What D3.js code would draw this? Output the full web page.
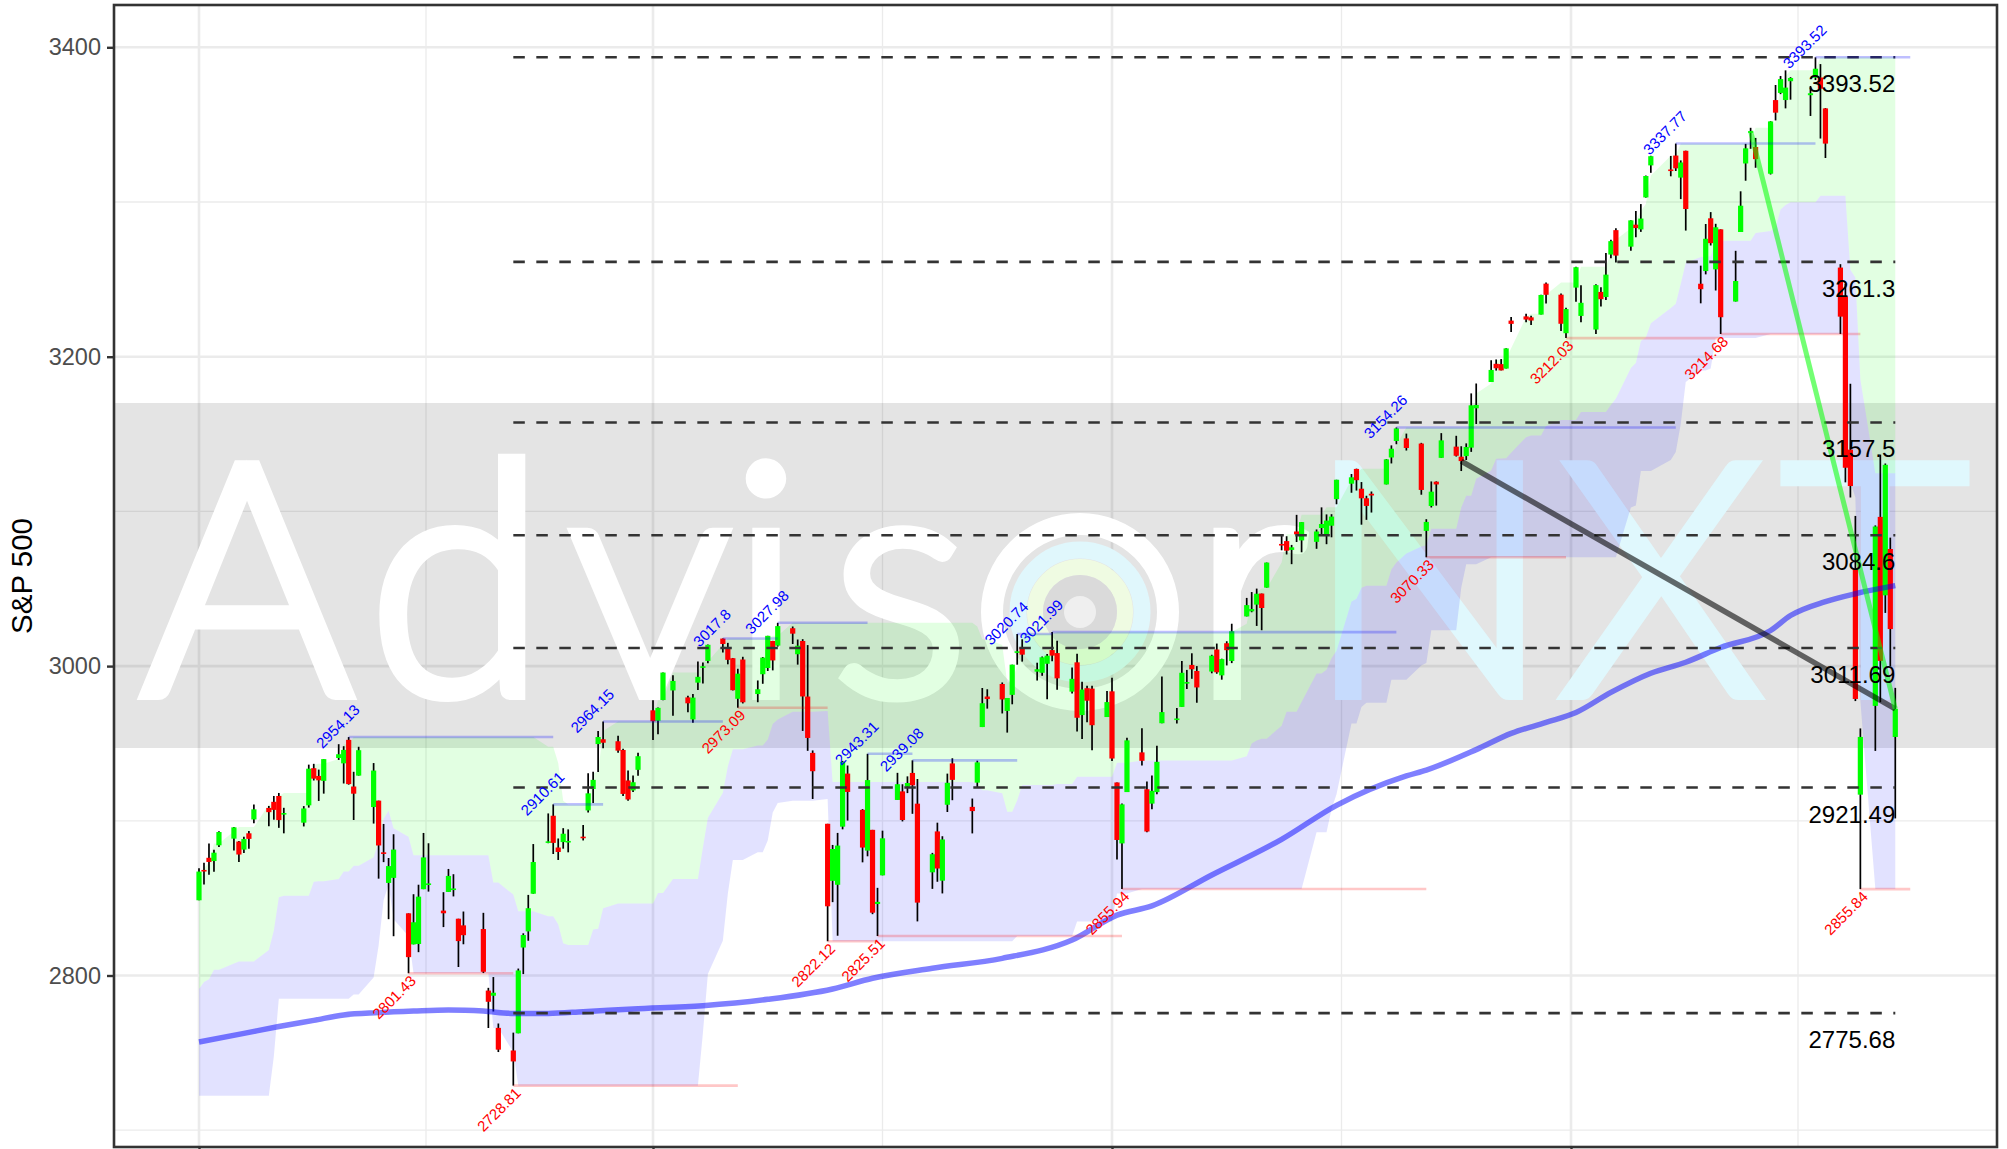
<!DOCTYPE html>
<html><head><meta charset="utf-8">
<script src="https://cdn.jsdelivr.net/npm/d3@7"></script>
<style>
html,body{margin:0;padding:0;overflow:hidden;background:#fff;}
svg{display:block;}
</style></head><body>
<svg id="chart" width="2007" height="1149"></svg>
<script>
// ---------------- DATA ----------------
const dates = [
"2019-04-01","2019-04-02","2019-04-03","2019-04-04","2019-04-05","2019-04-08","2019-04-09","2019-04-10","2019-04-11","2019-04-12","2019-04-15","2019-04-16","2019-04-17","2019-04-18","2019-04-22","2019-04-23","2019-04-24","2019-04-25","2019-04-26","2019-04-29","2019-04-30",
"2019-05-01","2019-05-02","2019-05-03","2019-05-06","2019-05-07","2019-05-08","2019-05-09","2019-05-10","2019-05-13","2019-05-14","2019-05-15","2019-05-16","2019-05-17","2019-05-20","2019-05-21","2019-05-22","2019-05-23","2019-05-24","2019-05-28","2019-05-29","2019-05-30","2019-05-31",
"2019-06-03","2019-06-04","2019-06-05","2019-06-06","2019-06-07","2019-06-10","2019-06-11","2019-06-12","2019-06-13","2019-06-14","2019-06-17","2019-06-18","2019-06-19","2019-06-20","2019-06-21","2019-06-24","2019-06-25","2019-06-26","2019-06-27","2019-06-28",
"2019-07-01","2019-07-02","2019-07-03","2019-07-05","2019-07-08","2019-07-09","2019-07-10","2019-07-11","2019-07-12","2019-07-15","2019-07-16","2019-07-17","2019-07-18","2019-07-19","2019-07-22","2019-07-23","2019-07-24","2019-07-25","2019-07-26","2019-07-29","2019-07-30","2019-07-31",
"2019-08-01","2019-08-02","2019-08-05","2019-08-06","2019-08-07","2019-08-08","2019-08-09","2019-08-12","2019-08-13","2019-08-14","2019-08-15","2019-08-16","2019-08-19","2019-08-20","2019-08-21","2019-08-22","2019-08-23","2019-08-26","2019-08-27","2019-08-28","2019-08-29","2019-08-30",
"2019-09-03","2019-09-04","2019-09-05","2019-09-06","2019-09-09","2019-09-10","2019-09-11","2019-09-12","2019-09-13","2019-09-16","2019-09-17","2019-09-18","2019-09-19","2019-09-20","2019-09-23","2019-09-24","2019-09-25","2019-09-26","2019-09-27","2019-09-30",
"2019-10-01","2019-10-02","2019-10-03","2019-10-04","2019-10-07","2019-10-08","2019-10-09","2019-10-10","2019-10-11","2019-10-14","2019-10-15","2019-10-16","2019-10-17","2019-10-18","2019-10-21","2019-10-22","2019-10-23","2019-10-24","2019-10-25","2019-10-28","2019-10-29","2019-10-30","2019-10-31",
"2019-11-01","2019-11-04","2019-11-05","2019-11-06","2019-11-07","2019-11-08","2019-11-11","2019-11-12","2019-11-13","2019-11-14","2019-11-15","2019-11-18","2019-11-19","2019-11-20","2019-11-21","2019-11-22","2019-11-25","2019-11-26","2019-11-27","2019-11-29",
"2019-12-02","2019-12-03","2019-12-04","2019-12-05","2019-12-06","2019-12-09","2019-12-10","2019-12-11","2019-12-12","2019-12-13","2019-12-16","2019-12-17","2019-12-18","2019-12-19","2019-12-20","2019-12-23","2019-12-24","2019-12-26","2019-12-27","2019-12-30","2019-12-31",
"2020-01-02","2020-01-03","2020-01-06","2020-01-07","2020-01-08","2020-01-09","2020-01-10","2020-01-13","2020-01-14","2020-01-15","2020-01-16","2020-01-17","2020-01-21","2020-01-22","2020-01-23","2020-01-24","2020-01-27","2020-01-28","2020-01-29","2020-01-30","2020-01-31",
"2020-02-03","2020-02-04","2020-02-05","2020-02-06","2020-02-07","2020-02-10","2020-02-11","2020-02-12","2020-02-13","2020-02-14","2020-02-18","2020-02-19","2020-02-20","2020-02-21","2020-02-24","2020-02-25","2020-02-26","2020-02-27","2020-02-28",
"2020-03-02","2020-03-03","2020-03-04","2020-03-05","2020-03-06"];

const opens = [
2848.63,2868.24,2876.09,2873.99,2884.16,2888.46,2886.58,2881.37,2891.92,2900.86,2908.32,2912.26,2916.04,2904.81,2898.78,2909.99,2934.00,2928.99,2925.81,2940.58,2937.14,
2952.33,2922.16,2929.21,2908.89,2913.03,2879.61,2859.84,2863.10,2840.19,2820.12,2820.38,2855.80,2858.60,2841.94,2854.02,2856.06,2836.70,2832.41,2830.03,2790.25,2786.94,2766.15,
2751.53,2762.64,2818.09,2828.51,2852.87,2885.83,2903.27,2882.73,2886.24,2886.82,2889.75,2906.71,2920.55,2949.60,2952.71,2951.42,2945.78,2926.07,2919.66,2932.94,
2971.41,2964.66,2978.08,2984.25,2979.77,2965.52,2989.30,2999.62,3003.36,3017.80,3012.13,3005.10,2978.87,3004.26,2981.93,2994.74,2998.77,3016.26,3013.25,3024.47,3007.66,3016.22,
2980.32,2943.90,2898.07,2861.18,2858.65,2896.21,2930.51,2907.07,2880.72,2894.15,2846.20,2864.74,2913.48,2919.01,2922.04,2930.94,2911.07,2866.70,2893.14,2861.28,2910.37,2937.09,
2909.01,2924.67,2960.60,2980.33,2988.43,2971.01,2981.41,3009.08,3012.21,2996.41,2995.67,3001.50,3010.36,3008.42,2983.50,3002.43,2968.35,2985.73,2985.47,2967.07,
2983.69,2924.78,2885.38,2918.56,2944.23,2920.40,2911.10,2918.55,2963.07,2965.81,2973.61,2989.68,3000.77,2996.84,2996.48,3010.73,2994.01,3014.78,3003.32,3032.12,3035.39,3039.74,3046.90,
3050.72,3078.96,3080.80,3075.10,3087.02,3081.25,3080.33,3089.28,3084.18,3090.75,3107.92,3117.91,3127.45,3114.66,3108.49,3111.41,3117.44,3134.85,3145.49,3147.18,
3143.85,3087.41,3103.50,3119.21,3134.62,3141.86,3135.36,3135.75,3141.23,3166.65,3183.63,3195.40,3195.21,3192.32,3223.33,3226.05,3225.45,3227.20,3247.23,3240.09,3215.18,
3244.67,3226.36,3217.55,3241.86,3238.59,3266.03,3281.81,3271.13,3285.35,3282.27,3302.97,3323.66,3321.03,3330.02,3315.77,3333.10,3247.16,3255.35,3289.46,3256.45,3282.33,
3235.66,3280.61,3324.91,3344.92,3335.54,3318.28,3365.87,3370.50,3365.90,3378.08,3369.04,3380.39,3380.45,3360.50,3257.61,3238.94,3139.90,3062.54,2916.90,
2974.28,3096.46,3045.75,3075.70,2954.20];

const highs = [
2869.40,2872.90,2885.25,2881.28,2893.24,2895.95,2886.88,2889.71,2893.42,2910.54,2909.60,2916.06,2918.00,2908.40,2909.51,2936.31,2936.83,2933.10,2939.88,2949.52,2948.22,
2954.13,2931.68,2947.85,2937.32,2913.03,2897.96,2875.97,2891.31,2840.19,2852.54,2858.68,2892.15,2885.48,2853.86,2868.88,2865.47,2836.70,2841.36,2840.51,2792.03,2799.00,2768.98,
2763.07,2804.49,2827.28,2852.10,2884.97,2904.77,2910.61,2888.57,2895.24,2894.45,2897.27,2930.79,2931.74,2958.06,2964.15,2954.92,2946.52,2932.59,2929.30,2943.98,
2977.93,2973.21,2995.84,2994.03,2980.76,2981.90,3002.98,3002.33,3013.92,3017.80,3015.02,3005.26,2998.28,3006.02,2990.71,3005.90,3019.59,3016.31,3027.98,3025.61,3017.19,3017.40,
3013.59,2945.50,2898.07,2884.40,2892.17,2938.72,2935.75,2907.58,2943.31,2894.15,2856.67,2893.63,2931.00,2923.63,2928.73,2939.08,2927.01,2879.27,2898.79,2890.03,2930.50,2940.43,
2914.39,2938.84,2985.86,2985.03,2989.43,2979.39,3000.93,3020.74,3017.33,3002.19,3006.21,3007.83,3021.99,3016.37,2999.15,3007.98,2989.82,2987.28,2987.31,2983.85,
2992.53,2924.78,2911.13,2953.74,2959.75,2925.47,2929.32,2948.46,2993.28,2972.84,3003.28,2997.54,3008.29,3000.00,3007.33,3014.57,3004.78,3016.07,3027.39,3044.08,3047.87,3050.10,3046.90,
3066.95,3085.20,3083.95,3078.34,3097.77,3093.09,3088.33,3102.61,3098.06,3098.20,3120.46,3124.17,3127.64,3118.97,3110.11,3112.87,3133.83,3142.69,3154.26,3150.30,
3144.31,3094.97,3119.38,3119.45,3150.60,3148.87,3142.12,3143.98,3176.28,3182.68,3197.71,3198.22,3198.48,3205.48,3225.65,3227.78,3226.43,3240.08,3247.93,3240.92,3231.72,
3258.14,3246.15,3246.84,3244.91,3267.07,3275.58,3282.99,3288.13,3294.25,3298.66,3317.11,3329.88,3329.79,3337.77,3326.88,3333.18,3258.85,3285.78,3293.47,3285.91,3282.33,
3268.44,3306.92,3337.58,3347.96,3341.42,3352.26,3375.63,3381.47,3385.09,3380.69,3375.01,3393.52,3389.15,3360.76,3259.81,3246.99,3182.51,3097.07,2959.72,
3090.96,3136.72,3130.97,3083.04,2985.93];

const lows = [
2848.63,2858.75,2865.17,2867.14,2882.99,2880.78,2873.33,2879.13,2881.99,2898.37,2896.48,2900.71,2895.45,2891.90,2896.35,2908.53,2926.05,2912.84,2917.56,2939.35,2924.11,
2923.36,2900.50,2929.21,2898.21,2862.60,2873.28,2836.40,2825.39,2801.43,2820.12,2815.08,2855.80,2854.23,2831.29,2854.02,2851.11,2805.49,2820.19,2801.58,2766.06,2776.74,2750.52,
2728.81,2762.64,2800.92,2822.45,2852.87,2885.51,2878.53,2874.68,2881.99,2879.62,2887.30,2905.44,2911.43,2931.50,2946.87,2944.05,2916.01,2912.99,2918.57,2929.05,
2952.22,2955.92,2977.96,2967.97,2970.09,2963.44,2984.62,2988.80,3001.87,3008.77,3001.15,2984.25,2973.09,2975.86,2976.65,2988.56,2996.82,2997.24,3012.59,3014.30,3000.94,2958.08,
2945.23,2914.11,2822.12,2847.42,2825.71,2894.47,2900.15,2873.14,2877.05,2839.64,2825.51,2864.74,2913.48,2899.60,2917.91,2904.51,2834.97,2856.00,2860.59,2853.05,2905.67,2913.32,
2891.85,2921.86,2960.60,2972.51,2969.39,2957.01,2975.31,3000.92,3002.90,2990.67,2993.73,2978.57,3003.16,2984.68,2982.23,2957.73,2952.86,2963.71,2945.53,2967.07,
2938.70,2874.93,2855.94,2918.56,2935.68,2892.66,2907.41,2917.12,2963.07,2962.94,2973.61,2985.20,2991.79,2976.31,2995.35,2995.04,2991.21,3000.42,3001.94,3032.12,3034.81,3025.96,3023.19,
3050.72,3074.87,3072.15,3065.89,3080.23,3073.58,3075.82,3084.73,3078.80,3083.26,3104.60,3112.06,3113.47,3091.41,3094.55,3099.26,3117.44,3131.00,3143.41,3139.34,
3110.78,3070.33,3102.53,3103.76,3134.62,3135.46,3126.09,3133.21,3138.47,3156.51,3183.63,3191.03,3191.14,3192.32,3216.03,3222.30,3220.51,3227.20,3234.37,3216.57,3212.03,
3235.53,3222.34,3214.64,3232.43,3236.67,3263.67,3260.86,3268.43,3277.19,3280.69,3302.82,3318.86,3316.61,3320.04,3301.87,3281.53,3234.50,3253.22,3271.89,3242.80,3214.68,
3235.66,3280.61,3313.75,3334.39,3322.12,3317.77,3352.72,3369.72,3360.52,3366.15,3355.61,3378.83,3341.02,3328.45,3214.65,3118.77,3108.99,2977.39,2855.84,
2945.19,2976.63,3034.38,2999.83,2901.54];

const closes = [
2867.19,2867.24,2873.40,2879.39,2892.74,2895.77,2878.20,2888.21,2888.32,2907.41,2905.58,2907.06,2900.45,2905.03,2907.97,2933.68,2927.25,2926.17,2939.88,2943.03,2945.83,
2923.73,2917.52,2945.64,2932.47,2884.05,2879.42,2870.72,2881.40,2811.87,2834.41,2850.96,2876.32,2859.53,2840.23,2864.36,2856.27,2822.24,2826.06,2802.39,2783.02,2788.86,2752.06,
2744.45,2803.27,2826.15,2843.49,2873.34,2886.73,2885.72,2879.84,2891.64,2886.98,2889.67,2917.75,2926.46,2954.18,2950.46,2945.35,2917.38,2913.78,2924.92,2941.76,
2964.33,2973.01,2995.82,2990.41,2975.95,2979.63,2993.07,2999.91,3013.77,3014.30,3004.04,2984.42,2995.11,2976.61,2985.03,3005.47,3019.56,3003.67,3025.86,3020.97,3013.18,2980.38,
2953.56,2932.05,2844.74,2881.77,2883.98,2938.09,2918.65,2882.70,2926.32,2840.60,2847.60,2888.68,2923.65,2900.51,2924.43,2922.95,2847.11,2878.38,2869.16,2887.94,2924.58,2926.46,
2906.27,2937.78,2976.00,2978.71,2978.43,2979.39,3000.93,3009.57,3007.39,2997.96,3005.70,3006.73,3006.79,2992.07,2991.78,2966.60,2984.87,2977.62,2961.79,2976.74,
2940.25,2887.61,2910.63,2952.01,2938.79,2893.06,2919.40,2938.13,2970.27,2966.15,2995.68,2989.69,2997.95,2986.20,3006.72,2995.99,3004.52,3010.29,3022.55,3039.42,3036.89,3046.77,3037.56,
3066.91,3078.27,3074.62,3076.78,3085.18,3093.08,3087.01,3091.84,3094.04,3096.63,3120.46,3122.03,3120.18,3108.46,3103.54,3110.29,3133.64,3140.52,3153.63,3140.98,
3113.87,3093.20,3112.76,3117.43,3145.91,3135.96,3132.52,3141.63,3168.57,3168.80,3191.45,3192.52,3191.14,3205.37,3221.22,3224.01,3223.38,3239.91,3240.02,3221.29,3230.78,
3257.85,3234.85,3246.28,3237.18,3253.05,3274.70,3265.35,3288.13,3283.15,3289.29,3316.81,3329.62,3320.79,3321.75,3325.54,3295.47,3243.63,3276.24,3273.40,3283.66,3225.52,
3248.92,3297.59,3334.69,3345.78,3327.71,3352.09,3357.75,3379.45,3373.94,3380.16,3370.29,3386.15,3373.23,3337.75,3225.89,3128.21,3116.39,2978.76,2954.22,
3090.23,3003.37,3130.12,3023.94,2972.37];

// sessions before the first candle (only used for the 26-day channel look-back)
const preDates = ["2019-02-22","2019-02-25","2019-02-26","2019-02-27","2019-02-28","2019-03-01","2019-03-04","2019-03-05","2019-03-06","2019-03-07","2019-03-08","2019-03-11","2019-03-12","2019-03-13","2019-03-14","2019-03-15","2019-03-18","2019-03-19","2019-03-20","2019-03-21","2019-03-22","2019-03-25","2019-03-26","2019-03-27","2019-03-28","2019-03-29"];
const preHighs = [2794.20,2813.49,2803.12,2795.76,2793.73,2808.02,2816.88,2796.44,2790.27,2767.25,2744.13,2784.00,2798.32,2821.24,2815.00,2830.73,2835.41,2852.42,2843.54,2860.31,2846.16,2809.79,2829.87,2825.56,2819.71,2836.03];
const preLows  = [2779.11,2794.99,2789.47,2775.13,2782.51,2787.38,2767.66,2782.97,2768.69,2739.09,2722.27,2747.61,2786.73,2799.78,2803.46,2810.79,2821.99,2823.27,2812.43,2817.38,2800.47,2785.02,2803.99,2787.72,2798.77,2819.23];
const channelWindow = 26;

// moving average
const maDates = ["2019-04-01","2019-04-10","2019-04-17","2019-04-24","2019-04-30","2019-05-07","2019-05-14","2019-05-21","2019-05-28","2019-06-03","2019-06-10","2019-06-17","2019-06-27","2019-07-11","2019-07-24","2019-08-06","2019-08-14","2019-08-26","2019-09-09","2019-09-23","2019-10-02","2019-10-09","2019-10-21","2019-11-04","2019-11-15","2019-11-29","2019-12-03","2019-12-13","2019-12-20","2019-12-27","2020-01-02","2020-01-09","2020-01-17","2020-01-24","2020-01-31","2020-02-10","2020-02-14","2020-02-21","2020-02-27","2020-03-06"];
const maValues = [2757.0,2762.6,2767.0,2771.0,2774.5,2776.0,2777.0,2777.7,2777.0,2775.5,2775.5,2776.6,2778.4,2780.5,2784.6,2791.3,2798.2,2804.7,2811.1,2822.9,2839.0,2845.0,2865.0,2888.0,2910.0,2929.0,2932.8,2946.0,2956.5,2963.6,2970.0,2983.0,2995.4,3002.5,3012.0,3023.0,3032.7,3041.7,3046.8,3052.0];

// Fibonacci levels
const fibLevels = [3393.52, 3261.3, 3157.5, 3084.6, 3011.69, 2921.49, 2775.68];
const fibLabels = ["3393.52","3261.3","3157.5","3084.6","3011.69","2921.49","2775.68"];
const fibStart = "2019-06-03", fibEnd = "2020-03-06";

// swing highs / lows
const highDates  = ["2019-05-01","2019-06-11","2019-06-21","2019-07-15","2019-07-26","2019-08-13","2019-08-22","2019-09-12","2019-09-19","2019-11-27","2020-01-22","2020-02-19"];
const highValues = [2954.13,2910.61,2964.15,3017.8,3027.98,2943.31,2939.08,3020.74,3021.99,3154.26,3337.77,3393.52];
const highLabels = ["2954.13","2910.61","2964.15","3017.8","3027.98","2943.31","2939.08","3020.74","3021.99","3154.26","3337.77","3393.52"];
const lowDates  = ["2019-05-13","2019-06-03","2019-07-18","2019-08-05","2019-08-15","2019-10-03","2019-12-03","2019-12-31","2020-01-31","2020-02-28"];
const lowValues = [2801.43,2728.81,2973.09,2822.12,2825.51,2855.94,3070.33,3212.03,3214.68,2855.84];
const lowLabels = ["2801.43","2728.81","2973.09","2822.12","2825.51","2855.94","3070.33","3212.03","3214.68","2855.84"];
const swingEnd = "2020-03-09";

// trend lines
const darkTrend  = {dates:["2019-12-10","2020-03-06"], values:[3132.52,2972.37]};
const greenTrend = {dates:["2020-02-06","2020-03-06"], values:[3345.78,2972.37]};

const yTicks = [2800, 3000, 3200, 3400];
const yMinor = [2700, 2900, 3100, 3300];
const xBreaks = ["2019-04-01","2019-07-01","2019-10-01","2020-01-01","2020-04-01"];

// ---------------- LAYOUT ----------------
const P = {left:114, right:1997, top:5, bottom:1147};
const parse = d3.utcParse("%Y-%m-%d");
const x = d3.scaleUtc().domain([parse("2019-04-01"), parse("2020-01-01")]).range([199, 1571]);
const y = d3.scaleLinear().domain([2800, 3400]).range([975.5, 47.3]);
const font = "'Liberation Sans', Arial, Helvetica, sans-serif";

const svg = d3.select("#chart");
svg.append("rect").attr("width",2007).attr("height",1149).attr("fill","#fff");
svg.append("defs").append("clipPath").attr("id","clip").append("rect")
  .attr("x",P.left).attr("y",P.top).attr("width",P.right-P.left).attr("height",P.bottom-P.top);
const g = svg.append("g").attr("clip-path","url(#clip)");

// grid
const majX = xBreaks.map(parse);
const minX = [];
for (let i=0;i<majX.length-1;i++) minX.push(x.invert((x(majX[i])+x(majX[i+1]))/2));
g.selectAll(".gmy").data(yMinor).join("line").attr("x1",P.left).attr("x2",P.right)
  .attr("y1",d=>y(d)).attr("y2",d=>y(d)).attr("stroke","#ebebeb").attr("stroke-width",1.3);
g.selectAll(".gmx").data(minX).join("line").attr("y1",P.top).attr("y2",P.bottom)
  .attr("x1",d=>x(d)).attr("x2",d=>x(d)).attr("stroke","#ebebeb").attr("stroke-width",1.3);
g.selectAll(".gy").data(yTicks).join("line").attr("x1",P.left).attr("x2",P.right)
  .attr("y1",d=>y(d)).attr("y2",d=>y(d)).attr("stroke","#ebebeb").attr("stroke-width",2.6);
g.selectAll(".gx").data(majX).join("line").attr("y1",P.top).attr("y2",P.bottom)
  .attr("x1",d=>x(d)).attr("x2",d=>x(d)).attr("stroke","#ebebeb").attr("stroke-width",2.6);

// watermark
const wm = g.append("g");
wm.append("rect").attr("x",P.left).attr("y",403).attr("width",P.right-P.left).attr("height",345)
  .attr("fill","#000").attr("opacity",0.105);
const wmFont = "Lato, 'Open Sans', sans-serif";
const wmLetters = [
  {ch:"A",cx:247,col:"#ffffff"},{ch:"d",cx:457,col:"#ffffff"},{ch:"v",cx:650,col:"#ffffff"},
  {ch:"i",cx:766,col:"#ffffff"},{ch:"s",cx:900,col:"#ffffff"},{ch:"r",cx:1250,col:"#ffffff"},
  {ch:"N",cx:1429,col:"#e0f8fd"},{ch:"X",cx:1661,col:"#e0f8fd"},{ch:"T",cx:1875,col:"#e0f8fd"}];
wm.selectAll(".wl").data(wmLetters).join("text")
  .attr("x",d=>d.cx).attr("y",694).attr("text-anchor","middle")
  .attr("font-family",wmFont).attr("font-weight",300).attr("font-size",322)
  .attr("fill",d=>d.col).attr("stroke",d=>d.col).attr("stroke-width",12)
  .attr("stroke-linejoin","miter").text(d=>d.ch);
// logo in place of the "o"
const lg = wm.append("g").attr("transform","translate(1080,612)");
lg.append("circle").attr("r",62).attr("fill","none").attr("stroke","#e0f7fc").attr("stroke-width",17);
lg.append("circle").attr("r",45).attr("fill","none").attr("stroke","#effbe2").attr("stroke-width",16);
lg.append("circle").attr("r",37).attr("fill","#dadada");
lg.append("circle").attr("r",16).attr("fill","#efefef");
lg.append("circle").attr("r",88).attr("fill","none").attr("stroke","#ffffff").attr("stroke-width",22);

// channel (26-session look-back, excluding current session)
const allH = preHighs.concat(highs), allL = preLows.concat(lows), off = preDates.length;
const chan = dates.map((d,i)=>{
  const j = i+off;
  const up = d3.max(allH.slice(j-channelWindow, j));
  const lo = d3.min(allL.slice(j-channelWindow, j));
  return {date:parse(d), up, lo, mid:(up+lo)/2};
});
g.append("path").datum(chan).attr("fill","#00ff00").attr("fill-opacity",0.115)
  .attr("d", d3.area().x(d=>x(d.date)).y0(d=>y(d.mid)).y1(d=>y(d.up)));
g.append("path").datum(chan).attr("fill","#0000ff").attr("fill-opacity",0.115)
  .attr("d", d3.area().x(d=>x(d.date)).y0(d=>y(d.lo)).y1(d=>y(d.mid)));

// candles
const candles = dates.map((d,i)=>({date:parse(d),o:opens[i],h:highs[i],l:lows[i],c:closes[i]}));
const bw = 5.2;
g.selectAll(".wick").data(candles).join("line")
  .attr("x1",d=>x(d.date)).attr("x2",d=>x(d.date))
  .attr("y1",d=>y(d.h)).attr("y2",d=>y(d.l)).attr("stroke","#000").attr("stroke-width",1.7);
g.selectAll(".body").data(candles).join("rect")
  .attr("x",d=>x(d.date)-bw/2).attr("width",bw)
  .attr("y",d=>y(Math.max(d.o,d.c)))
  .attr("height",d=>Math.max(1.6, Math.abs(y(d.o)-y(d.c))))
  .attr("fill",d=>d.c>=d.o?"#00ff00":"#ff0000");

// moving average
g.append("path").datum(maDates.map((d,i)=>({date:parse(d),v:maValues[i]})))
  .attr("fill","none").attr("stroke","#0000ff").attr("stroke-opacity",0.5).attr("stroke-width",5.5)
  .attr("stroke-linejoin","round")
  .attr("d", d3.line().x(d=>x(d.date)).y(d=>y(d.v)).curve(d3.curveMonotoneX));

// fib lines
g.selectAll(".fib").data(fibLevels).join("line")
  .attr("x1",x(parse(fibStart))).attr("x2",x(parse(fibEnd)))
  .attr("y1",d=>y(d)).attr("y2",d=>y(d))
  .attr("stroke","#333").attr("stroke-width",2.6).attr("stroke-dasharray","11.5,11.5");

// swing segments
const hs = highDates.map((d,i)=>({d0:parse(d), d1:parse(i<highDates.length-1?highDates[i+1]:swingEnd), v:highValues[i], t:highLabels[i]}));
const ls = lowDates.map((d,i)=>({d0:parse(d), d1:parse(i<lowDates.length-1?lowDates[i+1]:swingEnd), v:lowValues[i], t:lowLabels[i]}));
g.selectAll(".hseg").data(hs).join("line").attr("x1",d=>x(d.d0)).attr("x2",d=>x(d.d1))
  .attr("y1",d=>y(d.v)).attr("y2",d=>y(d.v)).attr("stroke","#0000ff").attr("stroke-opacity",0.25).attr("stroke-width",2.6);
g.selectAll(".lseg").data(ls).join("line").attr("x1",d=>x(d.d0)).attr("x2",d=>x(d.d1))
  .attr("y1",d=>y(d.v)).attr("y2",d=>y(d.v)).attr("stroke","#ff0000").attr("stroke-opacity",0.22).attr("stroke-width",2.6);

// trend lines
[[darkTrend,"#000",0.58,5.5],[greenTrend,"#00ff00",0.55,5]].forEach(([t,c,o,w])=>{
  g.append("line").attr("x1",x(parse(t.dates[0]))).attr("y1",y(t.values[0]))
   .attr("x2",x(parse(t.dates[1]))).attr("y2",y(t.values[1]))
   .attr("stroke",c).attr("stroke-opacity",o).attr("stroke-width",w);
});

// swing labels
g.selectAll(".hlab").data(hs).join("text")
  .attr("transform",d=>`translate(${x(d.d0)},${y(d.v)}) rotate(-45)`)
  .attr("y",-10).attr("text-anchor","middle").attr("font-family",font).attr("font-size",15)
  .attr("fill","#0000ff").text(d=>d.t);
g.selectAll(".llab").data(ls).join("text")
  .attr("transform",d=>`translate(${x(d.d0)},${y(d.v)}) rotate(-45)`)
  .attr("y",12).attr("text-anchor","end").attr("font-family",font).attr("font-size",15)
  .attr("fill","#ff0000").text(d=>d.t);

// fib labels
g.selectAll(".fibl").data(fibLevels).join("text")
  .attr("x",x(parse(fibEnd))).attr("y",d=>y(d)+35).attr("text-anchor","end")
  .attr("font-family",font).attr("font-size",24).attr("fill","#000")
  .text((d,i)=>fibLabels[i]);

// panel border
svg.append("rect").attr("x",P.left).attr("y",P.top).attr("width",P.right-P.left).attr("height",P.bottom-P.top)
  .attr("fill","none").attr("stroke","#333").attr("stroke-width",2.6);

// axes
const yAxis = svg.append("g").attr("transform",`translate(${P.left},0)`)
  .call(d3.axisLeft(y).tickValues(yTicks).tickSize(7).tickPadding(6).tickFormat(d3.format("d")));
yAxis.select(".domain").remove();
yAxis.selectAll("line").attr("stroke","#333").attr("stroke-width",2.4);
yAxis.selectAll("text").attr("font-family",font).attr("font-size",23.5).attr("fill","#4d4d4d");
const xAxis = svg.append("g").attr("transform",`translate(0,${P.bottom})`)
  .call(d3.axisBottom(x).tickValues(majX.slice(0,4)).tickSize(7).tickFormat(""));
xAxis.select(".domain").remove();
xAxis.selectAll("line").attr("stroke","#333").attr("stroke-width",2.4);

svg.append("text").attr("transform","translate(32,576) rotate(-90)").attr("text-anchor","middle")
  .attr("font-family",font).attr("font-size",29.5).attr("fill","#000").text("S&P 500");
</script>
</body></html>
